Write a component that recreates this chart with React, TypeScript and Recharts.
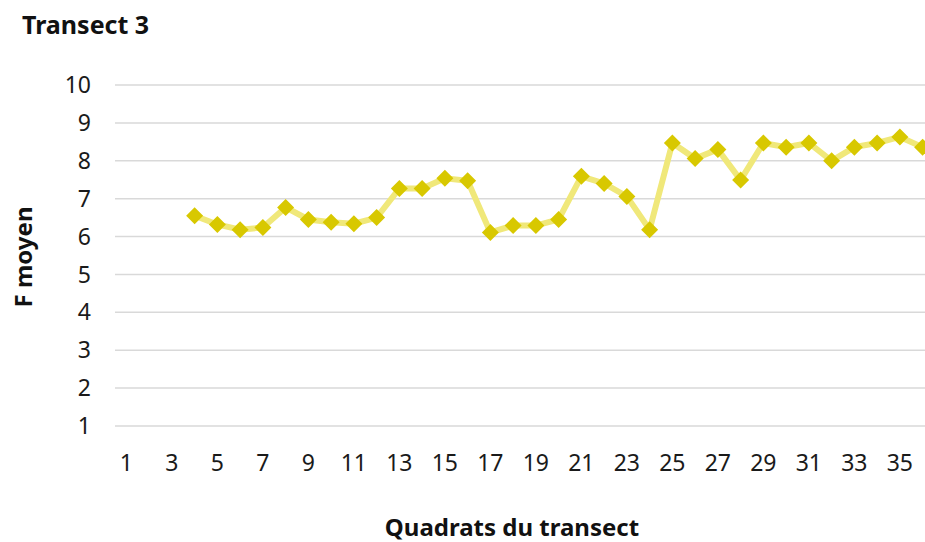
import { LineChart, Line, XAxis, YAxis, CartesianGrid } from "recharts";

const quadrats = [
    1, 2, 3, 4, 5, 6, 7, 8, 9, 10, 11, 12, 13, 14, 15, 16, 17, 18,
    19, 20, 21, 22, 23, 24, 25, 26, 27, 28, 29, 30, 31, 32, 33, 34, 35, 36,
];
const fMoyen = [
    null, null, null, 6.55, 6.32, 6.18, 6.24, 6.77, 6.45, 6.38, 6.34, 6.5,
    7.27, 7.27, 7.54, 7.47, 6.11, 6.29, 6.29, 6.45, 7.59, 7.4, 7.06, 6.18,
    8.47, 8.06, 8.3, 7.49, 8.47, 8.36, 8.47, 8.0, 8.36, 8.47, 8.63, 8.36,
];
const yTicks = [1, 2, 3, 4, 5, 6, 7, 8, 9, 10];

const FONT = "'Noto Sans', 'Open Sans', sans-serif";
const LINE = "#f0e87a";
const MARK = "#d8c800";
const GRID = "#d9d9d9";

const data = quadrats.map((q, i) => ({ q, f: fMoyen[i] }));

function Diamond({ cx, cy, value }: any) {
    if (value == null || cx == null || cy == null) return null;
    const r = 8.5;
    return (
        <path
            d={`M${cx},${cy - r}L${cx + r},${cy}L${cx},${cy + r}L${cx - r},${cy}Z`}
            fill={MARK}
        />
    );
}

const titleStyle = {
    position: "absolute" as const,
    whiteSpace: "nowrap" as const,
    fontWeight: 700,
    color: "#111",
    lineHeight: 1.36,
};

export default function App() {
    return (
        <div
            style={{
                position: "absolute",
                left: 0,
                top: 0,
                width: 925,
                height: 542,
                overflow: "hidden",
                background: "#fff",
                fontFamily: FONT,
            }}
        >
            <LineChart
                width={960}
                height={542}
                data={data}
                margin={{ top: 85, right: 26, bottom: 86, left: 0 }}
            >
                <CartesianGrid vertical={false} stroke={GRID} strokeWidth={1.5} />
                <XAxis
                    dataKey="q"
                    interval={1}
                    padding={{ left: 11.4, right: 11.4 }}
                    axisLine={false}
                    tickLine={false}
                    tickSize={0}
                    tickMargin={29}
                    tick={{ fontSize: 23, fill: "#1a1a1a", fontFamily: FONT }}
                />
                <YAxis
                    width={115}
                    domain={[1, 10]}
                    ticks={yTicks}
                    interval={0}
                    axisLine={false}
                    tickLine={false}
                    tickSize={0}
                    tickMargin={24}
                    tick={{ fontSize: 23, fill: "#1a1a1a", fontFamily: FONT }}
                />
                <Line
                    dataKey="f"
                    stroke={LINE}
                    strokeWidth={6}
                    dot={<Diamond />}
                    activeDot={false}
                    isAnimationActive={false}
                />
            </LineChart>
            <div style={{ ...titleStyle, left: 22, top: 7, fontSize: 25 }}>Transect 3</div>
            <div
                style={{
                    ...titleStyle,
                    left: 512,
                    top: 511,
                    fontSize: 24,
                    transform: "translateX(-50%)",
                }}
            >
                Quadrats du transect
            </div>
            <div
                style={{
                    ...titleStyle,
                    left: 23,
                    top: 257,
                    fontSize: 24,
                    transform: "translate(-50%, -50%) rotate(-90deg)",
                }}
            >
                F moyen
            </div>
        </div>
    );
}
